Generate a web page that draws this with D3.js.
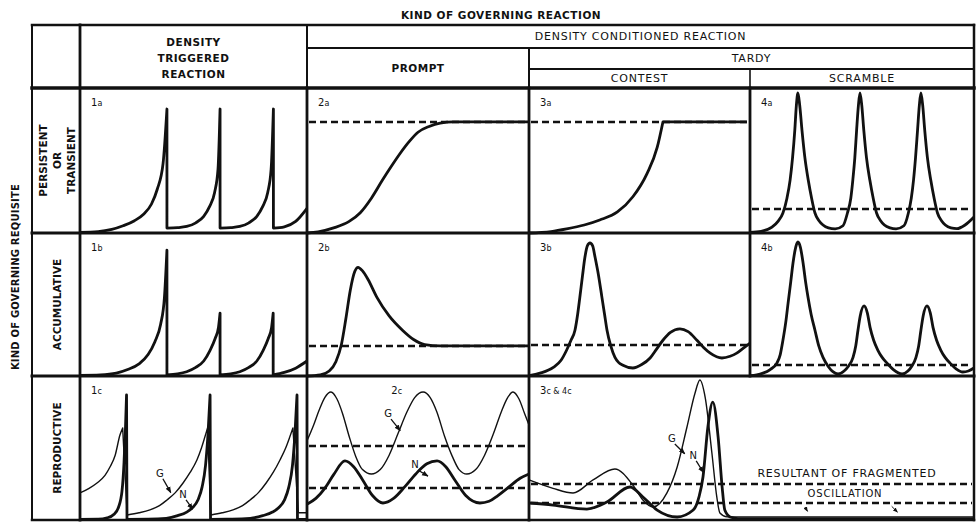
<!DOCTYPE html>
<html>
<head>
<meta charset="utf-8">
<script src="https://cdn.jsdelivr.net/npm/d3@7"></script>
<style>
  body { margin: 0; background: #fff; }
  svg { display: block; }
  text { font-family: "DejaVu Sans", sans-serif; fill: #111; }
</style>
</head>
<body>
<svg class="chart"></svg>
<script>
'use strict';

// ---- values (x: 0-100 across a panel, y: 0-100 up a panel) ----
var title = "KIND OF GOVERNING REACTION";
var sideTitle = "KIND OF GOVERNING REQUISITE";
var rowLabels = [["PERSISTENT", "OR", "TRANSIENT"], ["ACCUMULATIVE"], ["REPRODUCTIVE"]];
var triggeredHead = ["DENSITY", "TRIGGERED", "REACTION"];
var conditionedHead = "DENSITY CONDITIONED REACTION";
var promptHead = "PROMPT";
var tardyHead = "TARDY";
var tardyKinds = ["CONTEST", "SCRAMBLE"];

// 1a : triggered, persistent (sawtooth)
var saw1a = [
  [[0,0.5],[8,1],[14,2.5],[19,5],[24,8.5],[28,13],[31.5,20],[34,30],[36.6,48],[38.3,85.5]],
  [[38.3,3.4],[43,3.7],[47,4.5],[51,7],[54.5,11.5],[57,18],[59.3,28],[60.8,44],[61.7,85.5]],
  [[61.7,3.4],[66.4,3.7],[70.4,4.5],[74.4,7],[77.9,11.5],[80.4,18],[82.7,28],[84.2,44],[85.2,85.5]],
  [[85.2,3.4],[90,4.3],[95,8],[100,17]]
];
// 1b : triggered, accumulative
var saw1b = [
  [[0,0.5],[9,0.8],[16,2],[21,4.5],[26,8.5],[30,15],[33,24],[35.5,36],[37.2,55],[38.3,88]],
  [[38.3,0.7],[43,1.5],[47,3],[51,6],[54.5,10.5],[57.3,18],[59.5,26],[61,34],[61.7,44]],
  [[61.7,0.7],[66.4,1.5],[70.4,3],[74.4,6],[77.9,10.5],[80.7,18],[82.9,26],[84.4,34],[85.1,44]],
  [[85.1,0.7],[90,2.5],[95,5.5],[100,10.5]]
];
// 1c : triggered, reproductive (G thin, N thick)
var g1c = [
  [[0,18.8],[4,22],[7.5,25.7],[11,31],[13.2,36.8],[15.5,45],[17.6,59],[18.8,63.9]],
  [[20.8,3.5],[26,5],[30.8,7],[35,10],[38.3,13.9],[42,19],[45.4,25.7],[48.5,33],[51.5,41.7],[53.5,50],[55,57.6],[56.2,63.9]],
  [[57.6,3.5],[62.6,5],[67.4,7],[71.6,10],[74.9,13.9],[78.6,19],[82,25.7],[85.1,33],[88.1,41.7],[90.6,50],[92.4,57.6],[93.8,63.9]],
  [[95.8,14],[96.3,5],[100,5]]
];
var n1c = [
  [[0,0.5],[8,0.6],[12,1.5],[15,4],[17,9],[18.5,20],[19.4,40],[20,62],[20.5,86.8]],
  [[20.7,0.5],[30,0.6],[38,1.2],[43,3],[47,5.5],[49.5,8.5],[52,14],[53.8,23],[55.3,38],[56.4,60],[57.3,86.8]],
  [[57.5,0.5],[67,0.6],[75,1.2],[80.5,3],[84.8,5.5],[87.5,8.5],[90.1,14],[92,23],[93.6,38],[94.7,60],[95.6,86.8]],
  [[95.8,0.5],[100,0.5]]
];
// 2a : prompt, persistent
var curve2a = [[0,0],[5,0.8],[12,3.5],[19,8],[24,14],[29,24],[34,36.5],[38,46],[42,55],[46,63],[50,69.5],[55,73.5],[60,75.8],[66,76.6],[100,76.6]];
var level2a = 76.6;
// 2b : prompt, accumulative
var curve2b = [[0,0],[6,0.8],[10,3.5],[13,10],[15.5,22],[17.5,40],[19.5,60],[21.5,73],[23,76],[25,73.5],[27.5,67.5],[31.5,55],[37,42],[43,32],[48,25.5],[53,22],[60,21],[100,21]];
var level2b = 21;
// 2c : prompt, reproductive
var g2c = [[0,55],[3,66],[5.4,76],[8,85],[10.8,88.9],[13.5,84],[16,74],[19,58],[22,44],[25,35],[29,31.9],[33,35],[37,45],[41,60],[45,75],[48.5,85],[52.3,88.9],[55.5,85],[58.5,75],[62,58],[65.5,44],[68.5,35],[72,31.9],[76,35],[80,45],[84,60],[87.5,75],[90,84],[92.8,88.9],[95.5,84],[98,74],[100,66]];
var n2c = [[0,11],[4,15],[8,22],[12,31.5],[17.1,41],[21,37],[25,28],[29.5,17],[34.2,11.8],[39,15],[44,23],[49,32],[54,39],[58.6,41],[62.5,37],[66.5,28],[71.5,17],[77.9,11.8],[82,13],[86,17],[91,23],[96,29],[100,32]];
var levels2c = [51.4, 22.2];
// 3a : contest, persistent
var curve3a = [
  [[0,0],[10,1],[17,2.8],[25,5.5],[32,9],[40,14.5],[47,25],[53.4,41],[58,59],[60.6,76.6]],
  [[60.6,76.6],[98.6,76.6]]
];
var level3a = 76.6;
// 3b : contest, accumulative
var curve3b = [[0,0.3],[5,2],[11,6],[14.5,11],[17,18],[19,25],[20.8,32],[22,43],[23,55],[24.2,70],[25.3,83],[26.4,91],[27.6,93],[28.8,91],[29.9,83],[31.5,70],[33,55],[34.2,43],[35.3,32],[37,21],[38.9,13],[40.5,9.5],[42.5,7.5],[47,5.6],[51,8],[54.8,12.6],[57.8,19],[60.6,25],[64,30.5],[68.3,33],[72,31],[76,25],[79,20],[82,16],[87.3,12.6],[91,13.8],[94,16],[97,19.5],[100,23]];
var level3b = 21.7;
// 4a : scramble, persistent
var curve4a = [[0,0.5],[5,1.2],[9.8,4],[12.5,8],[14.7,13.8],[16.5,24],[17.9,36.5],[19,52],[20,71],[20.7,88],[21.4,96.6],[22.2,88],[23.2,71],[24.5,52],[26,36.5],[27.5,24],[29,13.8],[30.8,8.5],[32.6,5.5],[35,3.5],[38,2.8],
  [41.5,5],[43.5,13.8],[45,24],[45.9,36.5],[46.8,52],[47.6,71],[48.4,88],[49.1,96.6],[49.9,88],[50.8,71],[52,52],[53.5,36.5],[55,24],[56.5,13.8],[58.3,8.5],[60,5.5],[62.5,3.5],[65.2,2.8],
  [68.7,5],[70.7,13.8],[72,24],[73,36.5],[73.9,52],[74.8,71],[75.6,88],[76.3,96.6],[77.1,88],[78,71],[79.2,52],[80.7,36.5],[82.2,24],[83.7,13.8],[85.5,8.5],[87.2,5.5],[89.7,3.5],[92.4,3],[96,5.5],[100,11]];
var level4a = 16.6;
// 4b : scramble, accumulative
var curve4b = [[0,0.3],[3,0.8],[5.8,2],[9,4.5],[12,9],[13.5,15],[14.7,25],[16,38],[17,51],[18.2,66],[19.2,79],[20.4,90],[21.4,93.7],[22.5,90],[23.7,79],[24.8,66],[25.9,55],[27.3,43],[29,32],[30.7,21],[32.6,13],[35,6.5],[37,3],[39.3,1.4],
  [42,3.5],[44,7],[46,13],[47.2,21],[48.2,32],[49.2,42],[50.9,49],[52.4,44],[53.6,34],[55.2,25],[57.1,18],[59,13],[61.2,9],[64,4.5],[67.9,1.4],
  [70.5,3.5],[72.3,7],[74.1,13],[75.3,21],[76.3,32],[77.3,42],[79,49],[80.5,44],[81.7,34],[83.3,25],[85.2,18],[87.1,13],[89.3,9],[92,5],[95,2.8],[97.5,3.5],[100,5.6]];
var level4b = 7.7;
// 3c & 4c : tardy, reproductive
var g34c = [[0,27.8],[5.4,22],[9.9,18.8],[14.4,27.8],[19.3,35.4],[23.4,24],[25.6,13.9],[27.9,9],[31,18.8],[33.3,36.8],[35.5,64.6],[37.3,88],[38.4,97.2],[39.6,85],[41.1,46.5],[42.2,16],[42.9,4.9],[44.5,2.2],[60,2.2],[100,2.2]];
var n34c = [[0,11.8],[5.4,10.4],[13,7.6],[17.5,12.5],[22.7,22.9],[25.6,16],[28.8,6.9],[33.3,2.1],[36.9,6.9],[38.2,16],[39.1,29.9],[40.2,64.6],[41.3,81.9],[42.5,57.6],[43.4,22.9],[44,6.9],[45.2,2.1],[47,1],[100,1]];
var levels34c = [25, 11.8];
var resultantNote = ["RESULTANT OF FRAGMENTED", "OSCILLATION"];

// ---- layout ----
var W = 980, H = 523;
var tableLeft = 32, tableTop = 25;
var colX = [80, 307, 529, 750, 974];
var rowY = [88, 233, 376, 520];
var headLine1 = 48, headLine2 = 69;
var thick = 2.8, thin = 1.4;

var svg = d3.select(".chart").attr("width", W).attr("height", H);

var defs = svg.append("defs");
defs.append("marker")
    .attr("id", "arrow")
    .attr("viewBox", "0 0 10 10")
    .attr("refX", 9).attr("refY", 5)
    .attr("markerWidth", 5).attr("markerHeight", 5)
    .attr("orient", "auto")
    .append("path").attr("d", "M0,1L10,5L0,9z").attr("fill", "#111");

// ---- panels ----
var panels = [
  {col: 0, span: 1, row: 0, id: ["1", "a"], curves: [{segs: saw1a, w: thick}], levels: []},
  {col: 1, span: 1, row: 0, id: ["2", "a"], curves: [{segs: [curve2a], w: thick}], levels: [level2a]},
  {col: 2, span: 1, row: 0, id: ["3", "a"], curves: [{segs: curve3a, w: thick}], levels: [level3a]},
  {col: 3, span: 1, row: 0, id: ["4", "a"], curves: [{segs: [curve4a], w: thick}], levels: [level4a]},
  {col: 0, span: 1, row: 1, id: ["1", "b"], curves: [{segs: saw1b, w: thick}], levels: []},
  {col: 1, span: 1, row: 1, id: ["2", "b"], curves: [{segs: [curve2b], w: thick}], levels: [level2b]},
  {col: 2, span: 1, row: 1, id: ["3", "b"], curves: [{segs: [curve3b], w: thick}], levels: [level3b]},
  {col: 3, span: 1, row: 1, id: ["4", "b"], curves: [{segs: [curve4b], w: thick}], levels: [level4b]},
  {col: 0, span: 1, row: 2, id: ["1", "c"], curves: [{segs: g1c, w: thin}, {segs: n1c, w: thick}], levels: [],
   marks: [{t: "G", x: 35.2, y: 30, ax: 40, ay: 19}, {t: "N", x: 45.4, y: 15.3, ax: 49.6, ay: 7.5}]},
  {col: 1, span: 1, row: 2, id: ["2", "c"], idx: 38, curves: [{segs: [g2c], w: thin}, {segs: [n2c], w: thick}], levels: levels2c,
   marks: [{t: "G", x: 36.5, y: 71.5, ax: 42, ay: 62}, {t: "N", x: 48.6, y: 36.1, ax: 54.5, ay: 30.5}]},
  {col: 2, span: 2, row: 2, id: ["3", "c & 4c"], curves: [{segs: [g34c], w: thin}, {segs: [n34c], w: thick}], levels: levels34c,
   marks: [{t: "G", x: 32.1, y: 54.2, ax: 35, ay: 46}, {t: "N", x: 36.9, y: 42.4, ax: 39.2, ay: 33}]}
];

function joinSegments(line, segs) {
  return segs.map(function(s, i) {
    var p = line(s);
    return i ? p.replace(/^M/, "L") : p;
  }).join("");
}

var plots = svg.append("g").attr("class", "plots");

panels.forEach(function(p) {
  var x = d3.scaleLinear().domain([0, 100]).range([colX[p.col], colX[p.col + p.span]]);
  var y = d3.scaleLinear().domain([0, 100]).range([rowY[p.row + 1], rowY[p.row]]);
  var line = d3.line()
      .x(function(d) { return x(d[0]); })
      .y(function(d) { return y(d[1]); })
      .curve(d3.curveMonotoneX);
  var g = plots.append("g");

  g.selectAll("line.level").data(p.levels).enter().append("line")
      .attr("class", "level")
      .attr("x1", x(0) + 2).attr("x2", x(100) - 2)
      .attr("y1", function(d) { return y(d); })
      .attr("y2", function(d) { return y(d); })
      .attr("stroke", "#111").attr("stroke-width", 2.6)
      .attr("stroke-dasharray", "7,4");

  g.selectAll("path.curve").data(p.curves).enter().append("path")
      .attr("class", "curve")
      .attr("d", function(c) { return joinSegments(line, c.segs); })
      .attr("fill", "none").attr("stroke", "#111")
      .attr("stroke-width", function(c) { return c.w; })
      .attr("stroke-linejoin", "round");

  var lab = g.append("text")
      .attr("x", x(0) + (p.idx ? x(p.idx) - x(0) : 11))
      .attr("y", rowY[p.row] + 18)
      .attr("font-size", 10);
  lab.append("tspan").text(p.id[0]);
  lab.append("tspan").attr("font-size", 8).text(p.id[1]);

  (p.marks || []).forEach(function(m) {
    g.append("text").attr("x", x(m.x)).attr("y", y(m.y))
        .attr("font-size", 10).attr("text-anchor", "middle").text(m.t);
    g.append("line")
        .attr("x1", x(m.x) + 3).attr("y1", y(m.y) + 2)
        .attr("x2", x(m.ax)).attr("y2", y(m.ay))
        .attr("stroke", "#111").attr("stroke-width", 1.3)
        .attr("marker-end", "url(#arrow)");
  });

  if (p.row === 2 && p.span === 2) {
    g.append("text").attr("x", 847).attr("y", 477)
        .attr("font-size", 11).attr("letter-spacing", 0.8)
        .attr("text-anchor", "middle").text(resultantNote[0]);
    g.append("text").attr("x", 845).attr("y", 497)
        .attr("font-size", 10).attr("letter-spacing", 0.8)
        .attr("text-anchor", "middle").text(resultantNote[1]);
    [[62, 9, 62.6, 6], [81.5, 9.5, 82.8, 5.5]].forEach(function(a) {
      g.append("line")
          .attr("x1", x(a[0])).attr("y1", y(a[1]))
          .attr("x2", x(a[2])).attr("y2", y(a[3]))
          .attr("stroke", "#111").attr("stroke-width", 1)
          .attr("marker-end", "url(#arrow)");
    });
  }
});

// ---- table frame ----
var frame = svg.append("g").attr("class", "frame")
    .attr("stroke", "#111").attr("stroke-linecap", "square");

function rule(x1, y1, x2, y2, w) {
  frame.append("line").attr("x1", x1).attr("y1", y1).attr("x2", x2).attr("y2", y2)
      .attr("stroke-width", w);
}
rule(tableLeft, tableTop, colX[4], tableTop, 2.5);
rule(tableLeft, rowY[3], colX[4], rowY[3], 2.5);
rule(tableLeft, tableTop, tableLeft, rowY[3], 2);
rule(colX[4], tableTop, colX[4], rowY[3], 2.5);
rule(colX[0], tableTop, colX[0], rowY[3], 2.8);
rule(colX[1], tableTop, colX[1], rowY[0], 2);
rule(colX[1], rowY[0], colX[1], rowY[3], 2.8);
rule(colX[2], headLine1, colX[2], rowY[0], 2);
rule(colX[2], rowY[0], colX[2], rowY[3], 2.8);
rule(colX[3], headLine2, colX[3], rowY[0], 1.6);
rule(colX[3], rowY[0], colX[3], rowY[2], 2.8);
rule(colX[1], headLine1, colX[4], headLine1, 2);
rule(colX[2], headLine2, colX[4], headLine2, 2);
rule(tableLeft, rowY[0], colX[4], rowY[0], 3.5);
rule(tableLeft, rowY[1], colX[4], rowY[1], 3);
rule(tableLeft, rowY[2], colX[4], rowY[2], 3);

// ---- headings ----
var heads = svg.append("g").attr("class", "heads")
    .attr("text-anchor", "middle").attr("font-size", 11).attr("letter-spacing", 0.8);

heads.append("text").attr("x", 501).attr("y", 19).attr("font-weight", "bold")
    .attr("font-size", 10.5).attr("letter-spacing", 0.5).text(title);
heads.selectAll("text.trig").data(triggeredHead).enter().append("text")
    .attr("class", "trig")
    .attr("x", (colX[0] + colX[1]) / 2)
    .attr("y", function(d, i) { return 46 + i * 16; })
    .attr("font-weight", "bold").attr("font-size", 10.5).attr("letter-spacing", 0.5)
    .text(function(d) { return d; });
heads.append("text").attr("x", (colX[1] + colX[4]) / 2).attr("y", 40).text(conditionedHead);
heads.append("text").attr("x", (colX[1] + colX[2]) / 2).attr("y", 72)
    .attr("font-weight", "bold").attr("font-size", 10.5).attr("letter-spacing", 0.5).text(promptHead);
heads.append("text").attr("x", (colX[2] + colX[4]) / 2).attr("y", 62).text(tardyHead);
heads.selectAll("text.kind").data(tardyKinds).enter().append("text")
    .attr("class", "kind")
    .attr("x", function(d, i) { return (colX[2 + i] + colX[3 + i]) / 2; })
    .attr("y", 82)
    .text(function(d) { return d; });

// ---- row labels ----
var rows = svg.append("g").attr("class", "rows")
    .attr("text-anchor", "middle").attr("font-weight", "bold").attr("font-size", 10.5);

rowLabels.forEach(function(lines, r) {
  var cy = (rowY[r] + rowY[r + 1]) / 2;
  var cx = (tableLeft + colX[0]) / 2 + 1;
  lines.forEach(function(t, i) {
    rows.append("text")
        .attr("transform", "translate(" + (cx + (i - (lines.length - 1) / 2) * 14) + "," + cy + ") rotate(-90)")
        .attr("dy", "0.36em")
        .text(t);
  });
});
rows.append("text")
    .attr("transform", "translate(15,277) rotate(-90)")
    .attr("dy", "0.36em").attr("font-size", 10).attr("letter-spacing", 0.2)
    .text(sideTitle);
</script>
</body>
</html>
